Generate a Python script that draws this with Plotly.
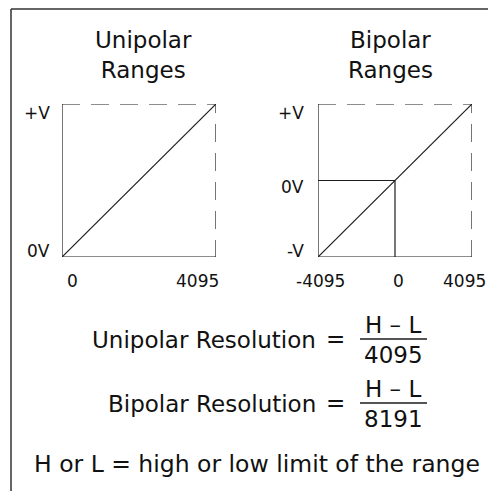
import plotly.graph_objects as go

# ---------------- data ----------------
uni_codes = [0, 4095]
uni_volts = [0, 1]
bi_codes = [-4095, 0, 4095]
bi_volts = [-1, 0, 1]

uni_xlabels = ["0", "4095"]
uni_ylabels = ["0V", "+V"]
bi_xlabels = ["-4095", "0", "4095"]
bi_ylabels = ["-V", "0V", "+V"]

titles = ["Unipolar<br>Ranges", "Bipolar<br>Ranges"]
formula_names = ["Unipolar Resolution", "Bipolar Resolution"]
formula_nums = ["H – L", "H – L"]
formula_dens = ["4095", "8191"]
footnote = "H or L = high or low limit of the range"

# ---------------- layout helpers ----------------
W, H = 488, 491
FONT = "DejaVu Sans"
INK = "#111111"
LINE = "#1c1c1c"


def px(x):
    return x / W


def py(y):
    return 1 - y / H


fig = go.Figure()

solid = dict(color=LINE, width=1.2)
dashed = dict(color=LINE, width=1.2, dash="18px,11px")


def add_line(xs, ys, axis, line):
    fig.add_trace(go.Scatter(x=xs, y=ys, mode="lines", line=line,
                             xaxis="x" + axis, yaxis="y" + axis,
                             hoverinfo="skip", showlegend=False,
                             cliponaxis=False))


# unipolar panel (axis 1)
u0, u1 = uni_codes[0], uni_codes[-1]
v0, v1 = uni_volts[0], uni_volts[-1]
add_line([u0, u0, u1], [v1, v0, v0], "", solid)
add_line([u0, u1, u1], [v1, v1, v0], "", dashed)
add_line([u0, u1], [v0, v1], "", solid)

# bipolar panel (axis 2)
b0, bm, b1 = bi_codes
w0, wm, w1 = bi_volts
add_line([b0, b0, b1], [w1, w0, w0], "2", solid)
add_line([b0, b1, b1], [w1, w1, w0], "2", dashed)
add_line([b0, b1], [w0, w1], "2", solid)
add_line([b0, bm], [wm, wm], "2", solid)
add_line([bm, bm], [w0, wm], "2", solid)

ax_common = dict(visible=False, showgrid=False, zeroline=False, fixedrange=True)
fig.update_layout(
    width=W, height=H,
    margin=dict(l=0, r=0, t=0, b=0),
    paper_bgcolor="white", plot_bgcolor="rgba(0,0,0,0)",
    showlegend=False,
    xaxis=dict(domain=[px(62), px(216)], range=[u0, u1], **ax_common),
    yaxis=dict(domain=[py(257), py(104)], range=[v0, v1], **ax_common),
    xaxis2=dict(domain=[px(318), px(472)], range=[b0, b1], anchor="y2", **ax_common),
    yaxis2=dict(domain=[py(257), py(104)], range=[w0, w1], anchor="x2", **ax_common),
)

ann = []
tick_font = dict(family=FONT, size=17, color=INK)

# y tick labels
uni_y_shift = [6, -9]
for lab, v, s in zip(uni_ylabels, uni_volts, uni_y_shift):
    ann.append(dict(x=u0, y=v, xref="x", yref="y", text=lab, showarrow=False,
                    xanchor="right", yanchor="middle", xshift=-10, yshift=s,
                    font=tick_font))
bi_y_shift = [6, -6, -9]
for lab, v, s in zip(bi_ylabels, bi_volts, bi_y_shift):
    ann.append(dict(x=b0, y=v, xref="x2", yref="y2", text=lab, showarrow=False,
                    xanchor="right", yanchor="middle", xshift=-12, yshift=s,
                    font=tick_font))

# x tick labels
uni_x_anchor = ["left", "right"]
uni_x_shift = [3, 5]
for lab, c, a, s in zip(uni_xlabels, uni_codes, uni_x_anchor, uni_x_shift):
    ann.append(dict(x=c, y=v0, xref="x", yref="y", text=lab, showarrow=False,
                    xanchor=a, yanchor="middle", xshift=s, yshift=-24,
                    font=tick_font))
bi_x_shift = [2, 3, -8]
for lab, c, s in zip(bi_xlabels, bi_codes, bi_x_shift):
    ann.append(dict(x=c, y=w0, xref="x2", yref="y2", text=lab, showarrow=False,
                    xanchor="center", yanchor="middle", xshift=s, yshift=-24,
                    font=tick_font))

# panel titles
title_font = dict(family=FONT, size=23, color=INK)
for t, cx in zip(titles, [143, 390]):
    ann.append(dict(x=px(cx), y=py(55), xref="paper", yref="paper", text=t,
                    showarrow=False, xanchor="center", yanchor="middle",
                    font=title_font))

# formulas
big_font = dict(family=FONT, size=23, color=INK)
shapes = []
for name, num, den, ly in zip(formula_names, formula_nums, formula_dens, [339, 403]):
    ann.append(dict(x=px(318), y=py(ly + 1), xref="paper", yref="paper", text=name,
                    showarrow=False, xanchor="right", yanchor="middle", font=big_font))
    ann.append(dict(x=px(335), y=py(ly), xref="paper", yref="paper", text="=",
                    showarrow=False, xanchor="center", yanchor="middle", font=big_font))
    ann.append(dict(x=px(393), y=py(ly - 14), xref="paper", yref="paper", text=num,
                    showarrow=False, xanchor="center", yanchor="middle", font=big_font))
    ann.append(dict(x=px(393), y=py(ly + 16), xref="paper", yref="paper", text=den,
                    showarrow=False, xanchor="center", yanchor="middle", font=big_font))
    shapes.append(dict(type="line", xref="paper", yref="paper",
                       x0=px(360), x1=px(427), y0=py(ly), y1=py(ly),
                       line=dict(color=LINE, width=1.3)))

ann.append(dict(x=px(32), y=py(464), xref="paper", yref="paper", text=footnote,
                showarrow=False, xanchor="left", yanchor="middle",
                font=dict(family=FONT, size=23.5, color=INK)))

# outer frame (top and left edges)
shapes.append(dict(type="line", xref="paper", yref="paper",
                   x0=px(11), x1=1, y0=py(9), y1=py(9),
                   line=dict(color="#333333", width=1.5)))
shapes.append(dict(type="line", xref="paper", yref="paper",
                   x0=px(11), x1=px(11), y0=py(9), y1=0,
                   line=dict(color="#333333", width=1.5)))

fig.update_layout(annotations=ann, shapes=shapes)
fig.write_html("out.html",
               config={"displayModeBar": False},
               post_script="document.body.style.margin='0';"
                           "document.body.style.overflow='hidden';")
